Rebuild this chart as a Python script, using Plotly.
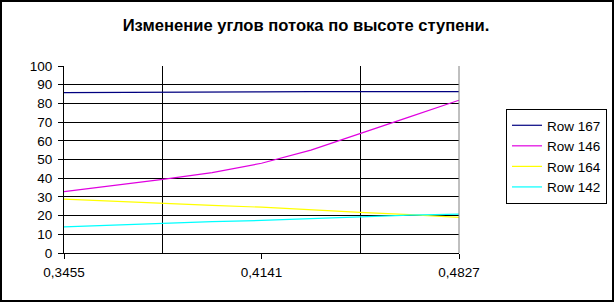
import plotly.graph_objects as go

x_vals = [0.3455, 0.36265, 0.3798, 0.39695, 0.4141, 0.43125, 0.4484, 0.46555, 0.4827]
row_167 = [85.8, 85.8, 85.9, 86.1, 86.2, 86.3, 86.3, 86.3, 86.3]
row_146 = [32.8, 36.0, 39.4, 43.0, 48.0, 55.0, 63.7, 72.8, 81.7]
row_164 = [28.8, 27.6, 26.5, 25.5, 24.5, 23.0, 21.7, 20.5, 19.0]
row_142 = [14.0, 15.0, 16.0, 16.8, 17.4, 18.5, 19.6, 20.3, 20.8]

series_names = ["Row 167", "Row 146", "Row 164", "Row 142"]
series_vals = [row_167, row_146, row_164, row_142]
series_colors = ["#000080", "#E000E0", "#FFFF00", "#00FFFF"]

x_tickvals = [0.3455, 0.4141, 0.4827]
x_ticktext = ["0,3455", "0,4141", "0,4827"]
x_gridvals = [0.3798, 0.4484]

W, H = 616, 303
L, R, T, B = 64, 157, 66, 50
pw, ph = W - L - R, H - T - B

def px(x):
    return (x - L) / pw

def py(y):
    return (H - B - y) / ph

fig = go.Figure()
for name, vals, col in zip(series_names, series_vals, series_colors):
    fig.add_trace(go.Scatter(x=x_vals, y=vals, mode="lines", name=name,
                             line=dict(color=col, width=1.2)))

font = "Liberation Sans, Arial, sans-serif"
fig.update_layout(
    width=W, height=H,
    margin=dict(l=L, r=R, t=T, b=B, autoexpand=False),
    paper_bgcolor="white", plot_bgcolor="white",
    font=dict(family=font, size=13.5, color="black"),
    title=dict(text="<b>Изменение углов потока по высоте ступени.</b>",
               x=306 / W, xanchor="center", y=1 - 25 / H, yanchor="middle",
               font=dict(family=font, size=16.6, color="black")),
    showlegend=True,
    legend=dict(x=px(506), y=py(109), xanchor="left", yanchor="top",
                bordercolor="black", borderwidth=1, bgcolor="white",
                font=dict(family=font, size=13.5), tracegroupgap=0,
                itemwidth=30),
    xaxis=dict(range=[0.3455, 0.4827], tickmode="array", tickvals=x_tickvals,
               ticktext=x_ticktext, ticks="outside", ticklen=5, tickcolor="black",
               showgrid=False, zeroline=False, showline=True, linecolor="black",
               linewidth=1, ticklabelstandoff=2, automargin=False,
               minor=dict(tickmode="array", tickvals=x_gridvals, showgrid=True,
                          gridcolor="black", gridwidth=1, ticks="")),
    yaxis=dict(range=[0, 100], dtick=10, tick0=0, ticks="outside", ticklen=5,
               tickcolor="black", showgrid=True, gridcolor="black", gridwidth=1,
               zeroline=False, showline=True, linecolor="black", linewidth=1,
               ticklabelstandoff=3, automargin=False),
)

# right plot-area edge (gray) and outer chart border
fig.add_shape(type="line", xref="paper", yref="paper", x0=1, x1=1, y0=0, y1=1,
              line=dict(color="#808080", width=1))
fig.add_shape(type="rect", xref="paper", yref="paper",
              x0=px(1), x1=px(613), y0=py(301), y1=py(1),
              line=dict(color="black", width=2), fillcolor="rgba(0,0,0,0)")

fig.write_html("out.html")
